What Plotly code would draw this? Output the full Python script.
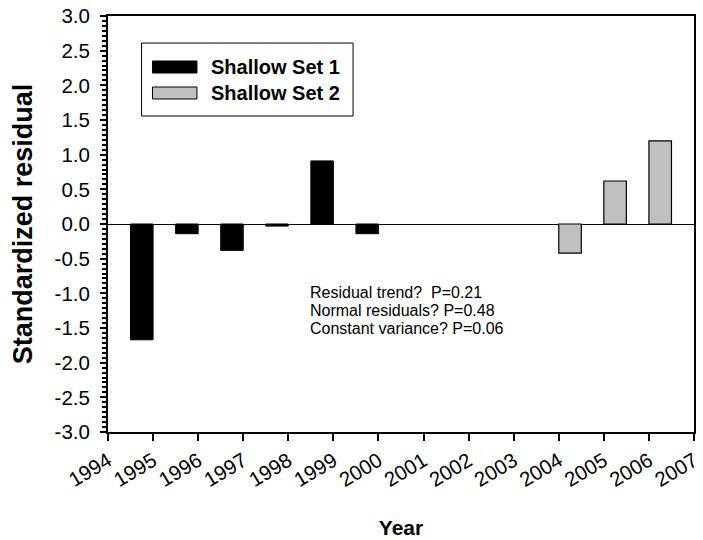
import plotly.graph_objects as go

years_set1 = [1995, 1996, 1997, 1998, 1999, 2000]
resid_set1 = [-1.67, -0.14, -0.38, -0.03, 0.91, -0.14]
years_set2 = [2004, 2005, 2006]
resid_set2 = [-0.42, 0.62, 1.20]
y_ticks = [-3.0, -2.5, -2.0, -1.5, -1.0, -0.5, 0.0, 0.5, 1.0, 1.5, 2.0, 2.5, 3.0]
x_ticks = list(range(1994, 2008))
stats_lines = ["Residual trend?  P=0.21", "Normal residuals? P=0.48", "Constant variance? P=0.06"]
series_names = ["Shallow Set 1", "Shallow Set 2"]
series_colors = ["black", "#C0C0C0"]

font = "Liberation Sans, Arial, sans-serif"

fig = go.Figure()
fig.add_trace(go.Bar(x=years_set1, y=resid_set1, name=series_names[0],
                     width=0.5, offset=-0.5,
                     marker=dict(color=series_colors[0], line=dict(color="black", width=1))))
fig.add_trace(go.Bar(x=years_set2, y=resid_set2, name=series_names[1],
                     width=0.5, offset=0.0,
                     marker=dict(color=series_colors[1], line=dict(color="black", width=1.2))))

# statistics text, one line per annotation
line_y = [0.3365, 0.2925, 0.2485]
for txt, yy in zip(stats_lines, line_y):
    fig.add_annotation(x=0.3405, y=yy, xref="paper", yref="paper", xanchor="left", yanchor="middle",
                       text=txt, showarrow=False, align="left",
                       font=dict(family=font, size=16, color="black"))

# legend box drawn to match the original's wide swatches
fig.add_shape(type="rect", xref="paper", yref="paper", x0=0.0573, x1=0.4182, y0=0.7596, y1=0.935,
              line=dict(color="black", width=1), fillcolor="white", layer="above")
sw_y = [(0.8630, 0.8918), (0.8005, 0.8293)]
txt_y = [0.8774, 0.8149]
for name, col, (y0, y1), ty in zip(series_names, series_colors, sw_y, txt_y):
    fig.add_shape(type="rect", xref="paper", yref="paper", x0=0.0759, x1=0.1518, y0=y0, y1=y1,
                  line=dict(color="black", width=1), fillcolor=col, layer="above")
    fig.add_annotation(x=0.172, y=ty, xref="paper", yref="paper", xanchor="left", yanchor="middle",
                       text="<b>" + name + "</b>", showarrow=False,
                       font=dict(family=font, size=20, color="black"))

fig.update_layout(
    width=703, height=540,
    margin=dict(l=108, r=2, t=16, b=108),
    plot_bgcolor="white", paper_bgcolor="white",
    font=dict(family=font, color="black"),
    showlegend=False,
    xaxis=dict(range=[1994, 2007], tickvals=x_ticks, ticktext=[str(v) for v in x_ticks],
               tickangle=-31, ticks="outside", ticklen=7, tickwidth=2, tickcolor="black",
               ticklabeloverflow="allow",
               showline=True, linecolor="black", linewidth=2, mirror=True,
               showgrid=False, zeroline=False,
               tickfont=dict(family=font, size=20.5, color="black"),
               title=dict(text="<b>Year</b>", font=dict(family=font, size=21, color="black"), standoff=30)),
    yaxis=dict(range=[-3, 3], tickvals=y_ticks, ticktext=[f"{v:.1f}" for v in y_ticks],
               ticks="outside", ticklen=6, tickwidth=2, tickcolor="black",
               ticklabelstandoff=6,
               minor=dict(dtick=0.5/7, tick0=0, ticks="outside", ticklen=4, tickwidth=1.5, tickcolor="black"),
               showline=True, linecolor="black", linewidth=2, mirror=True,
               showgrid=False, zeroline=True, zerolinecolor="black", zerolinewidth=1,
               tickfont=dict(family=font, size=20.5, color="black"),
               title=dict(text="<b>Standardized residual</b>", font=dict(family=font, size=27, color="black"), standoff=14)),
)

fig.write_html("out.html")
